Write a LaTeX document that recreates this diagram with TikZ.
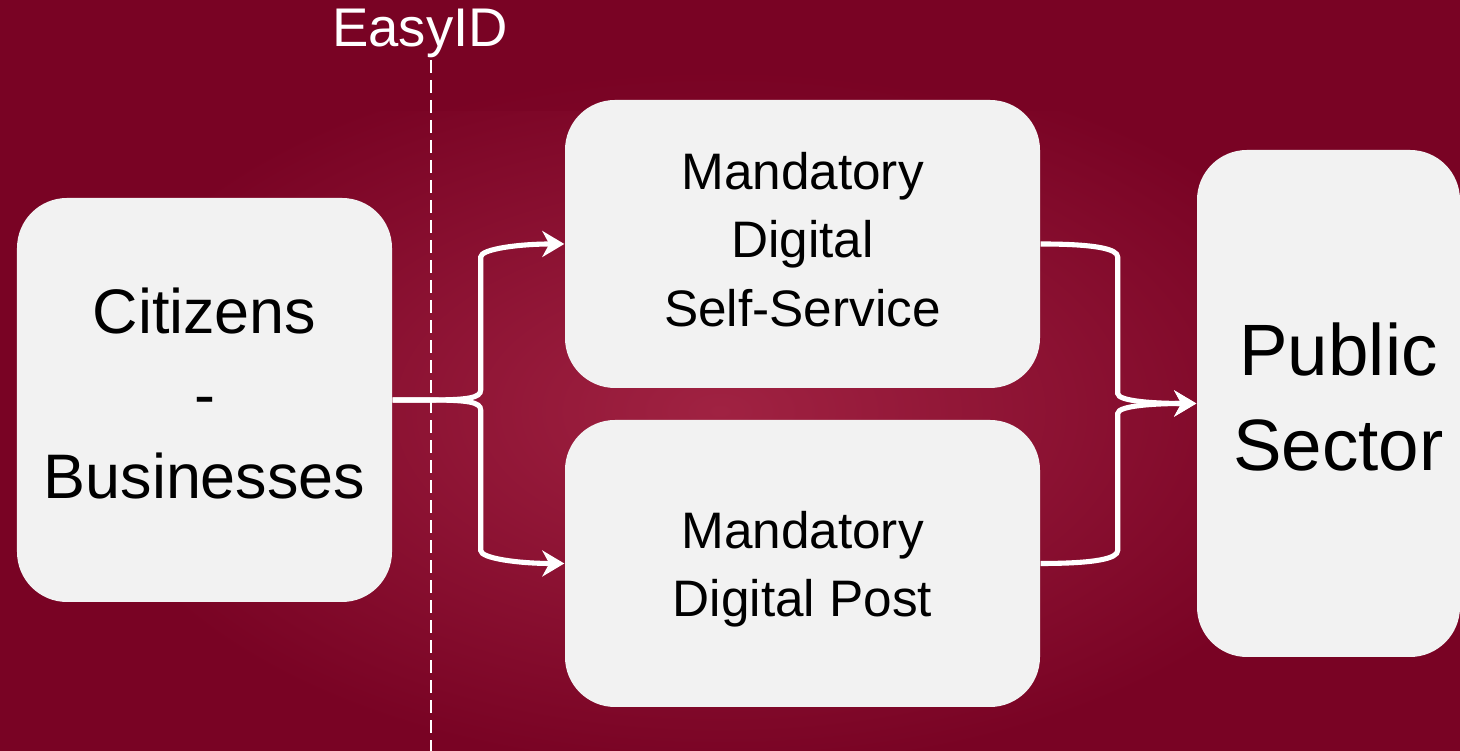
\documentclass[tikz,border=0pt]{standalone}
\usepackage{fontspec}
\setmainfont{Liberation Sans}
\usetikzlibrary{arrows.meta,calc}

\definecolor{bgred}{RGB}{121,3,36}
\definecolor{bglight}{RGB}{160,34,66}
\definecolor{boxgray}{RGB}{242,242,242}

\tikzset{
  box/.style = {fill = boxgray, rounded corners = 0.5cm, align = center, inner sep = 0pt},
  link/.style = {draw = white, line width = 1.45pt,
    -{Stealth[length = 0.22cm, width = 0.26cm, inset = 0.07cm]}},
}
% extra depth or height on a line, to sit the text like the slide does
\newcommand{\lowpad}[1]{\rule[-#1]{0pt}{#1}}
\newcommand{\highpad}[1]{\rule{0pt}{#1}}

\begin{document}
\begin{tikzpicture}
\useasboundingbox (0, 0) rectangle (14.6, 7.51);
\clip (0, 0) rectangle (14.6, 7.51);
%\draw [very thin, color = gray](0, 0) grid (14.6, 7.51);
\fill [bgred] (0, 0) rectangle (14.6, 7.51);
\shade [inner color = bglight, outer color = bgred] (7.2, 3.4) ellipse (6.5 and 3.6);
\fill [bgred, opacity = 0.6] (0, 6.4) rectangle (14.6, 7.51);

% boxes
\node [box, minimum width = 3.75cm, minimum height = 4.04cm,
  font = \fontsize{17.9}{23.5}\selectfont] (cit) at (2.045, 3.51) {Citizens\\-\\Businesses\lowpad{0.13cm}};
\node [box, minimum width = 4.75cm, minimum height = 2.88cm,
  font = \fontsize{14.6}{19.5}\selectfont] (self) at (8.025, 5.07) {Mandatory\\Digital\\Self-Service\lowpad{0.10cm}};
\node [box, minimum width = 4.75cm, minimum height = 2.87cm,
  font = \fontsize{14.6}{19.5}\selectfont] (post) at (8.025, 1.875) {\highpad{0.49cm}Mandatory\\Digital Post};
\node [box, minimum width = 2.63cm, minimum height = 5.07cm,
  font = \fontsize{20.7}{27}\selectfont] (pub) at (13.285, 3.475) {\hspace{0.2cm}Public\\\hspace{0.2cm}Sector\lowpad{0.14cm}};

% EasyID line
\node [color = white, font = \fontsize{15.5}{18}\selectfont] (easyid) at (4.20, 7.18) {EasyID};
\coordinate (dashtop) at (4.31, 6.91);
\coordinate (dashbot) at (4.31, 0);
\draw [white, line width = 0.8pt, dash pattern = on 0.13cm off 0.07cm] (dashtop) to (dashbot);

% fork out of Citizens
\coordinate (lup) at ($(cit.east) + (0.88, 0.10)$);
\coordinate (ldown) at ($(cit.east) + (0.88, -0.10)$);
\coordinate (ltop) at ($(lup |- self.west) + (0, -0.13)$);
\coordinate (lbot) at ($(ldown |- post.west) + (0, 0.13)$);
\draw [link] (cit.east) -- ++(0.35, 0) .. controls +(0.4, 0) and +(0, -0.08) .. (lup)
  -- (ltop) .. controls +(0, 0.08) and +(-0.45, 0) .. (self.west);
\draw [link] (cit.east) -- ++(0.35, 0) .. controls +(0.4, 0) and +(0, 0.08) .. (ldown)
  -- (lbot) .. controls +(0, -0.08) and +(-0.45, 0) .. (post.west);

% join into Public Sector
\coordinate (rtop) at ($(self.east) + (0.77, -0.13)$);
\coordinate (rbot) at ($(post.east) + (0.77, 0.13)$);
\coordinate (rup) at ($(rtop |- pub.west) + (0, 0.10)$);
\coordinate (rdown) at ($(rtop |- pub.west) + (0, -0.10)$);
\draw [link] (self.east) .. controls +(0.55, 0) and +(0, 0.08) .. (rtop)
  -- (rup) .. controls +(0, -0.08) and +(-0.4, 0) .. (pub.west);
\draw [link] (post.east) .. controls +(0.55, 0) and +(0, -0.08) .. (rbot)
  -- (rdown) .. controls +(0, 0.08) and +(-0.4, 0) .. (pub.west);
\end{tikzpicture}
\end{document}
